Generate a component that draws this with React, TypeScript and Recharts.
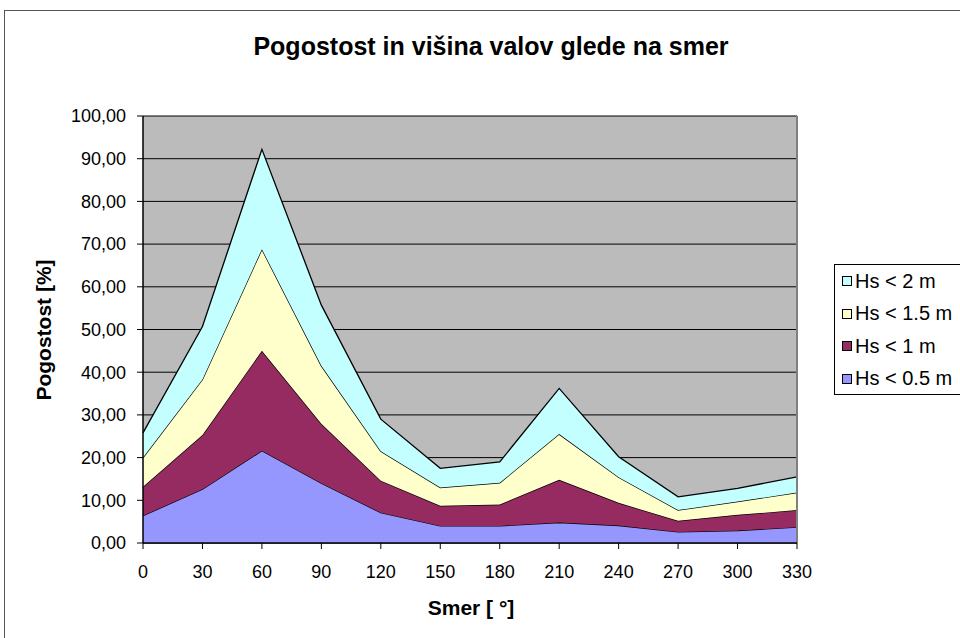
import React from 'react';
import { AreaChart, Area, XAxis, YAxis, CartesianGrid, ReferenceLine } from 'recharts';

// Wave direction categories [deg]
const directions = [0, 30, 60, 90, 120, 150, 180, 210, 240, 270, 300, 330];

// Frequency share per height class [%] (stacked on top of each other)
const hsUnder05 = [6.4, 12.6, 21.6, 14.0, 7.1, 4.0, 4.0, 4.8, 4.1, 2.6, 2.9, 3.7];
const hsUnder1 = [6.8, 12.7, 23.4, 13.9, 7.5, 4.7, 5.0, 10.0, 5.3, 2.6, 3.7, 4.0];
const hsUnder15 = [6.8, 13.0, 23.8, 13.6, 6.9, 4.3, 5.1, 10.7, 6.0, 2.5, 3.1, 4.1];
const hsUnder2 = [5.8, 12.4, 23.4, 14.2, 7.5, 4.5, 4.9, 10.7, 4.8, 3.1, 3.1, 3.7];

const yTicks = [0, 10, 20, 30, 40, 50, 60, 70, 80, 90, 100];

// Excel-ish palette
const BLUE = '#9696FF';
const MAROON = '#952B60';
const YELLOW = '#FFFFCC';
const CYAN = '#C4FFFF';

const data = directions.map((d, i) => ({
  dir: d,
  hs05: hsUnder05[i],
  hs1: hsUnder1[i],
  hs15: hsUnder15[i],
  hs2: hsUnder2[i],
}));

const legendItems = [
  { label: 'Hs < 2 m', color: CYAN },
  { label: 'Hs < 1.5 m', color: YELLOW },
  { label: 'Hs < 1 m', color: MAROON },
  { label: 'Hs < 0.5 m', color: BLUE },
];

const font = 'Arial, "Liberation Sans", Helvetica, sans-serif';

const App: React.FC = () => {
  return (
    <div
      style={{
        position: 'absolute',
        left: 0,
        top: 0,
        width: 960,
        height: 638,
        overflow: 'hidden',
        background: '#fff',
        fontFamily: font,
      }}
    >
      {/* outer chart frame, runs off the right/bottom edge like the screenshot */}
      <div
        style={{
          position: 'absolute',
          left: 4,
          top: 10,
          width: 1100,
          height: 800,
          border: '1.5px solid #555',
        }}
      />

      <div
        style={{
          position: 'absolute',
          left: 0,
          width: 982,
          top: 32,
          textAlign: 'center',
          fontSize: 25,
          fontWeight: 'bold',
          color: '#000',
        }}
      >
        Pogostost in višina valov glede na smer
      </div>

      <div style={{ position: 'absolute', left: 0, top: 0 }}>
        <AreaChart
          width={960}
          height={638}
          data={data}
          margin={{ top: 116, right: 163, bottom: 55, left: 0 }}
        >
          <CartesianGrid
            vertical={false}
            stroke="#000"
            strokeWidth={1}
            fill="#BBBBBB"
            fillOpacity={1}
          />
          <XAxis
            dataKey="dir"
            type="category"
            interval={0}
            height={40}
            tickSize={6}
            tickMargin={16}
            stroke="#000"
            tick={{ fill: '#000', fontSize: 18, fontFamily: font }}
            tickLine={{ stroke: '#000' }}
            axisLine={{ stroke: '#000', strokeWidth: 1.5 }}
          />
          <YAxis
            width={143}
            domain={[0, 100]}
            ticks={yTicks}
            interval={0}
            tickSize={6}
            tickMargin={11}
            tickFormatter={(v: number) => v.toFixed(2).replace('.', ',')}
            tick={{ fill: '#000', fontSize: 18, fontFamily: font }}
            tickLine={{ stroke: '#000' }}
            axisLine={{ stroke: '#000', strokeWidth: 1.5 }}
          />
          <Area type="linear" dataKey="hs05" stackId="1" fill={BLUE} fillOpacity={1} stroke="#000" strokeWidth={1.3} isAnimationActive={false} />
          <Area type="linear" dataKey="hs1" stackId="1" fill={MAROON} fillOpacity={1} stroke="#000" strokeWidth={1.3} isAnimationActive={false} />
          <Area type="linear" dataKey="hs15" stackId="1" fill={YELLOW} fillOpacity={1} stroke="#000" strokeWidth={1.3} isAnimationActive={false} />
          <Area type="linear" dataKey="hs2" stackId="1" fill={CYAN} fillOpacity={1} stroke="#000" strokeWidth={1.3} isAnimationActive={false} />
          <ReferenceLine x={330} stroke="#808080" strokeWidth={2} />
        </AreaChart>
      </div>

      {/* axis titles */}
      <div
        style={{
          position: 'absolute',
          left: 371,
          width: 200,
          top: 596,
          textAlign: 'center',
          fontSize: 21,
          fontWeight: 'bold',
        }}
      >
        Smer [ °]
      </div>
      <div
        style={{
          position: 'absolute',
          left: 44,
          top: 330,
          transform: 'translate(-50%, -50%) rotate(-90deg)',
          whiteSpace: 'nowrap',
          fontSize: 21,
          fontWeight: 'bold',
        }}
      >
        Pogostost [%]
      </div>

      {/* legend box */}
      <div
        style={{
          position: 'absolute',
          left: 834,
          top: 264,
          width: 160,
          height: 131,
          border: '1px solid #000',
          boxSizing: 'border-box',
        }}
      >
        {legendItems.map((it, i) => (
          <div
            key={it.label}
            style={{
              position: 'absolute',
              left: 7,
              top: 4 + i * 32.5,
              height: 24,
              display: 'flex',
              alignItems: 'center',
              whiteSpace: 'nowrap',
              fontSize: 20,
            }}
          >
            <span
              style={{
                display: 'inline-block',
                width: 8,
                height: 8,
                background: it.color,
                border: '1px solid #000',
                marginRight: 3,
              }}
            />
            {it.label}
          </div>
        ))}
      </div>
    </div>
  );
};

export default App;
